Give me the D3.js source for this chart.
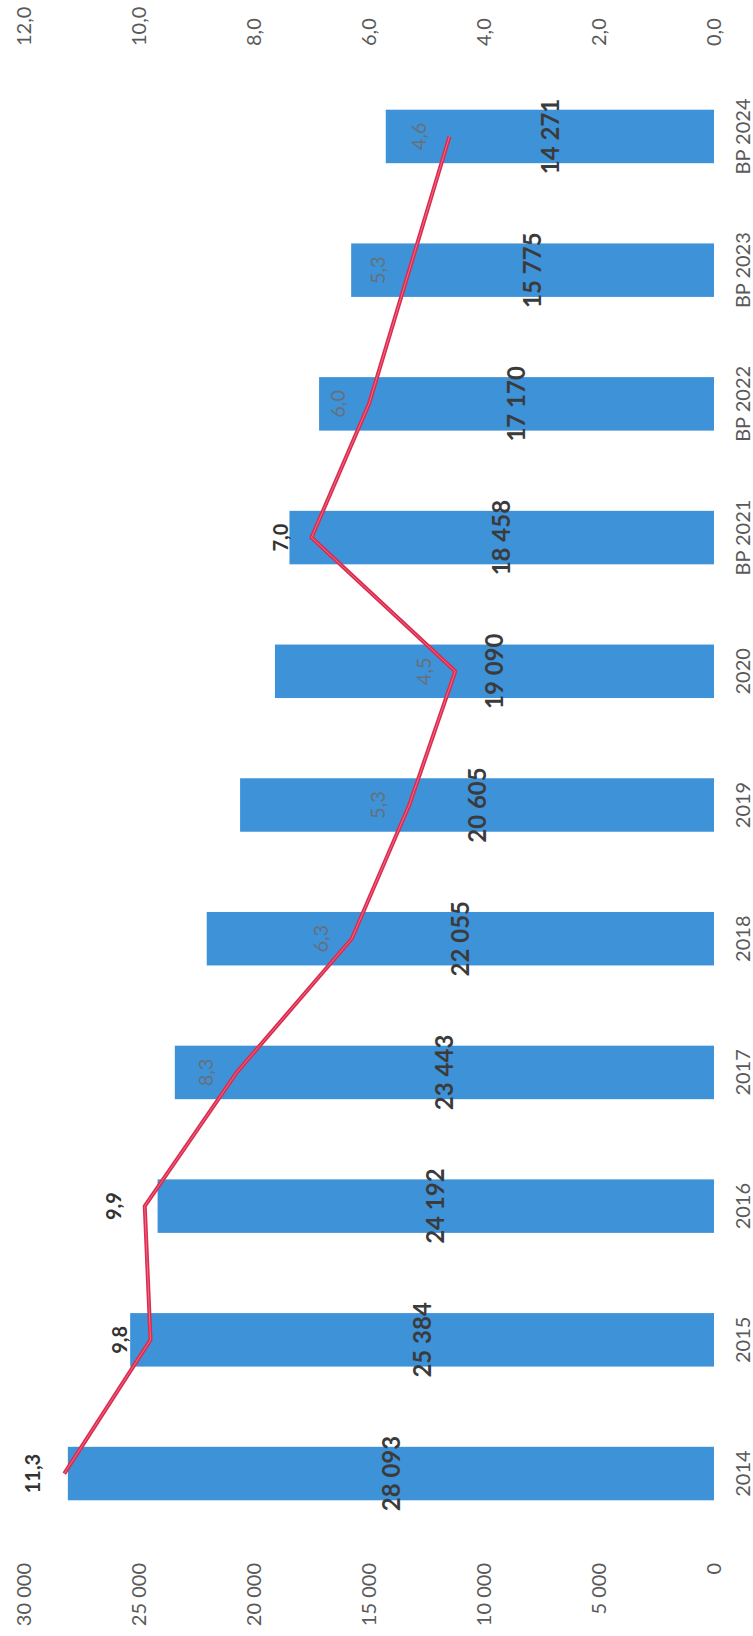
<!DOCTYPE html>
<html>
<head>
<meta charset="utf-8">
<script src="https://cdn.jsdelivr.net/npm/d3@7"></script>
<style>
  html, body { margin: 0; padding: 0; background: #fff; }
  svg { display: block; font-family: Lato, "Liberation Sans", sans-serif; }
</style>
</head>
<body>
<div id="chart"></div>
<script>
// chart data (page is rotated: categories run bottom -> top)
var categories = ["2014", "2015", "2016", "2017", "2018", "2019", "2020",
                  "BP 2021", "BP 2022", "BP 2023", "BP 2024"];
var barValues = [28093, 25384, 24192, 23443, 22055, 20605, 19090,
                 18458, 17170, 15775, 14271];
var lineValues = [11.3, 9.8, 9.9, 8.3, 6.3, 5.3, 4.5, 7.0, 6.0, 5.3, 4.6];
var barTicks = [0, 5000, 10000, 15000, 20000, 25000, 30000];
var lineTicks = [0, 2, 4, 6, 8, 10, 12];

var w = 753, h = 1636;
var base = 714, far = 24;          // value axes run right -> left
var plotTop = 69.6, plotBottom = 1540.4;

var fmtBar = function(v) { return d3.format(",")(v).replace(/,/g, " "); };
var fmtLine = function(v) { return d3.format(".1f")(v).replace(".", ","); };

var svg = d3.select("#chart").append("svg")
    .attr("width", w)
    .attr("height", h);

var xBar = d3.scaleLinear().domain([0, 30000]).range([base, far]);
var xLine = d3.scaleLinear().domain([0, 12]).range([base, far]);

var yScale = d3.scaleBand()
    .domain(categories.slice().reverse())
    .range([plotTop, plotBottom])
    .paddingInner(0.6)
    .paddingOuter(0.3);

var data = categories.map(function(c, i) {
    return {cat: c, bar: barValues[i], line: lineValues[i]};
});

var cy = function(d) { return yScale(d.cat) + yScale.bandwidth() / 2; };

// bars
svg.selectAll("rect.bar").data(data)
    .enter()
    .append("rect")
    .attr("class", "bar")
    .attr("x", function(d) { return xBar(d.bar); })
    .attr("y", function(d) { return yScale(d.cat); })
    .attr("width", function(d) { return xBar(0) - xBar(d.bar); })
    .attr("height", yScale.bandwidth())
    .attr("fill", "#3e92d8");

// bar value labels, centred in the bars
svg.selectAll("text.barlab").data(data)
    .enter()
    .append("text")
    .attr("class", "barlab")
    .attr("transform", function(d) {
        return "translate(" + [(xBar(d.bar) + xBar(0)) / 2, cy(d)] + ") rotate(-90)";
    })
    .attr("text-anchor", "middle")
    .attr("dy", "0.36em")
    .attr("font-size", 24)
    .attr("font-weight", "bold")
    .attr("fill", "#3b3b3b")
    .text(function(d) { return fmtBar(d.bar); });

// line
var line = d3.line()
    .x(function(d) { return xLine(d.line); })
    .y(cy);

svg.append("path")
    .datum(data)
    .attr("d", line)
    .attr("fill", "none")
    .attr("stroke", "#dd2a4e")
    .attr("stroke-width", 4)
    .attr("stroke-linejoin", "round");

svg.append("path")
    .datum(data)
    .attr("d", line)
    .attr("fill", "none")
    .attr("stroke", "#f3a3b4")
    .attr("stroke-width", 0.8)
    .attr("stroke-opacity", 0.7);

// line labels sit left of the point (i.e. "above" in the unrotated chart)
var labOff = 31;
var insideBar = function(d) { return xLine(d.line) - labOff > xBar(d.bar) + 2; };

svg.selectAll("text.linelab").data(data)
    .enter()
    .append("text")
    .attr("class", "linelab")
    .attr("transform", function(d) {
        return "translate(" + [xLine(d.line) - labOff, cy(d)] + ") rotate(-90)";
    })
    .attr("text-anchor", "middle")
    .attr("dy", "0.36em")
    .attr("font-size", 20)
    .attr("font-weight", function(d) { return insideBar(d) ? "normal" : "bold"; })
    .attr("fill", function(d) { return insideBar(d) ? "#66707a" : "#333"; })
    .text(function(d) { return fmtLine(d.line); });

// category labels (right side)
svg.selectAll("text.cat").data(data)
    .enter()
    .append("text")
    .attr("class", "cat")
    .attr("transform", function(d) {
        return "translate(" + [743, cy(d)] + ") rotate(-90)";
    })
    .attr("text-anchor", "middle")
    .attr("dy", "0.36em")
    .attr("font-size", 20)
    .attr("fill", "#595959")
    .text(function(d) { return d.cat; });

// primary value axis labels (bottom)
svg.selectAll("text.tickBar").data(barTicks)
    .enter()
    .append("text")
    .attr("class", "tickBar")
    .attr("transform", function(d) {
        return "translate(" + [xBar(d), 1563] + ") rotate(-90)";
    })
    .attr("text-anchor", "end")
    .attr("dy", "0.36em")
    .attr("font-size", 20)
    .attr("fill", "#595959")
    .text(fmtBar);

// secondary value axis labels (top)
svg.selectAll("text.tickLine").data(lineTicks)
    .enter()
    .append("text")
    .attr("class", "tickLine")
    .attr("transform", function(d) {
        return "translate(" + [xLine(d), 46] + ") rotate(-90)";
    })
    .attr("text-anchor", "start")
    .attr("dy", "0.36em")
    .attr("font-size", 20)
    .attr("fill", "#595959")
    .text(fmtLine);
</script>
</body>
</html>
